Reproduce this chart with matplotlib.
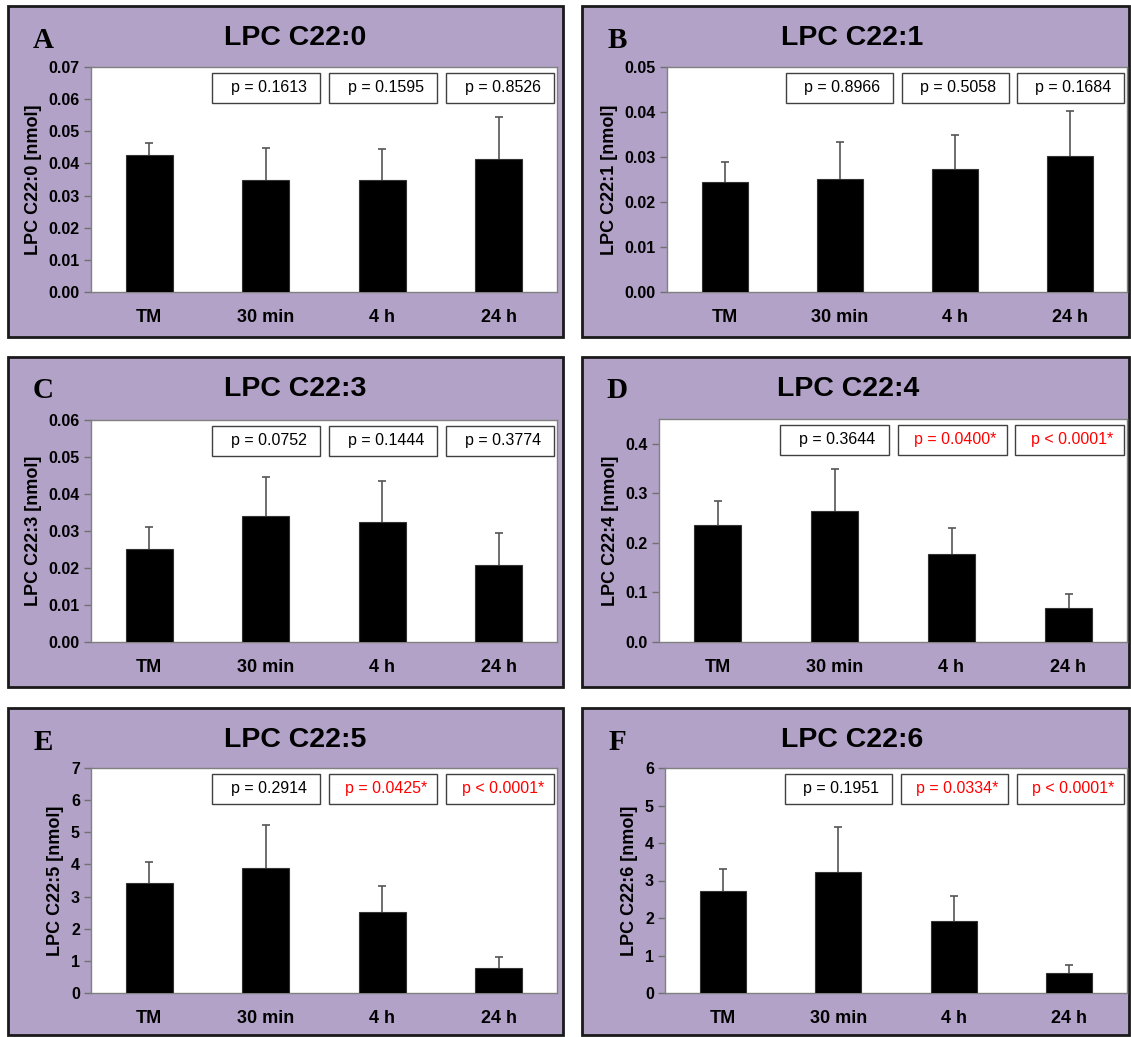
import numpy as np
import matplotlib
matplotlib.use("Agg")
import matplotlib.pyplot as plt
from matplotlib.patches import Rectangle

plt.rcParams['font.family'] = ['Liberation Sans', 'DejaVu Sans']

groups = ['TM', '30 min', '4 h', '24 h']

# mean and upper SD per time point (nmol)
c220_mean = [0.0425, 0.0350, 0.0350, 0.0415]
c220_sd = [0.0040, 0.0098, 0.0095, 0.0131]
c221_mean = [0.0245, 0.0251, 0.0273, 0.0303]
c221_sd = [0.0044, 0.0083, 0.0075, 0.0100]
c223_mean = [0.0252, 0.0340, 0.0324, 0.0208]
c223_sd = [0.0060, 0.0107, 0.0110, 0.0086]
c224_mean = [0.237, 0.2635, 0.1775, 0.069]
c224_sd = [0.048, 0.0855, 0.0525, 0.028]
c225_mean = [3.43, 3.89, 2.52, 0.78]
c225_sd = [0.65, 1.33, 0.80, 0.33]
c226_mean = [2.73, 3.24, 1.91, 0.525]
c226_sd = [0.58, 1.20, 0.67, 0.225]

# p values vs TM, '*' = significant
c220_p = ['p = 0.1613', 'p = 0.1595', 'p = 0.8526']
c221_p = ['p = 0.8966', 'p = 0.5058', 'p = 0.1684']
c223_p = ['p = 0.0752', 'p = 0.1444', 'p = 0.3774']
c224_p = ['p = 0.3644', 'p = 0.0400*', 'p < 0.0001*']
c225_p = ['p = 0.2914', 'p = 0.0425*', 'p < 0.0001*']
c226_p = ['p = 0.1951', 'p = 0.0334*', 'p < 0.0001*']

W, H = 1131, 1037
purple = '#B2A2C8'

fig = plt.figure(figsize=(W / 100, H / 100), dpi=100)


def fx(x):
    return x / W


def fy(y):
    return 1 - y / H


panels = [
    # letter, name, mean, sd, pvals, ymax, yticks, fmt, outer box, axes box, title x
    ('A', 'C22:0', c220_mean, c220_sd, c220_p, 0.07, np.arange(0, 0.071, 0.01), '{:.2f}',
     (8, 6, 563, 337), (91, 67, 557, 292), 295),
    ('B', 'C22:1', c221_mean, c221_sd, c221_p, 0.05, np.arange(0, 0.051, 0.01), '{:.2f}',
     (582, 6, 1129, 337), (667, 67, 1127, 292), 852),
    ('C', 'C22:3', c223_mean, c223_sd, c223_p, 0.06, np.arange(0, 0.061, 0.01), '{:.2f}',
     (8, 357, 563, 687), (91, 420, 557, 642), 295),
    ('D', 'C22:4', c224_mean, c224_sd, c224_p, 0.45, np.arange(0, 0.41, 0.1), '{:.1f}',
     (582, 357, 1129, 687), (659, 419, 1127, 642), 848),
    ('E', 'C22:5', c225_mean, c225_sd, c225_p, 7, np.arange(0, 8), '{:.0f}',
     (8, 708, 563, 1035), (91, 768, 557, 993), 295),
    ('F', 'C22:6', c226_mean, c226_sd, c226_p, 6, np.arange(0, 7), '{:.0f}',
     (582, 708, 1129, 1035), (665, 768, 1127, 993), 852),
]

x = np.arange(len(groups))

for letter, name, mean, sd, pvals, ymax, yticks, fmt, outer, inner, tx in panels:
    x0, y0, x1, y1 = outer
    fig.add_artist(Rectangle((fx(x0), fy(y1)), (x1 - x0) / W, (y1 - y0) / H,
                             transform=fig.transFigure, facecolor=purple,
                             edgecolor='#1a1a1a', lw=2, zorder=0))
    ty = y0 + 32
    fig.text(fx(x0 + 35), fy(ty + 2), letter, ha='center', va='center',
             family=['Liberation Serif', 'DejaVu Serif'], fontweight='bold', fontsize=21)
    fig.text(fx(tx), fy(ty), 'LPC ' + name, ha='center', va='center',
             fontweight='bold', fontsize=20.5)

    a0, b0, a1, b1 = inner
    ax = fig.add_axes([fx(a0), fy(b1), (a1 - a0) / W, (b1 - b0) / H])
    ax.set_facecolor('white')
    ax.bar(x, mean, width=0.4, color='black', edgecolor='#333333', lw=0.8, zorder=3)
    # upper error bars only
    top = np.array(mean) + np.array(sd)
    ax.vlines(x, mean, top, color='#555555', lw=1.2, zorder=2)
    ax.plot(x, top, ls='none', marker='_', ms=6, mew=1.2, color='#555555', zorder=2)
    ax.set_xlim(-0.5, 3.5)
    ax.set_ylim(0, ymax)
    ax.set_yticks(yticks)
    ax.set_yticklabels([fmt.format(v) for v in yticks], fontweight='bold', fontsize=11.5)
    ax.set_xticks(x)
    ax.set_xticklabels(groups, fontweight='bold', fontsize=13)
    ax.tick_params(axis='x', length=0, pad=12)
    ax.tick_params(axis='y', length=5, color='#707070', width=1, pad=3)
    for sp in ax.spines.values():
        sp.set_color('#808080')
        sp.set_linewidth(1)
    ax.set_ylabel('LPC ' + name + ' [nmol]', fontweight='bold', fontsize=13,
                  labelpad=5)

    # p value boxes above the three later time points
    bw, gap, bh = 0.233, 0.018, 0.135
    left = 0.259
    for i, p in enumerate(pvals):
        bx = left + i * (bw + gap)
        ax.add_patch(Rectangle((bx, 0.975 - bh), bw, bh, transform=ax.transAxes,
                               facecolor='white', edgecolor='#404040', lw=1,
                               zorder=5, clip_on=False))
        col = 'red' if p.endswith('*') else 'black'
        ax.text(bx + bw / 2 + 0.006, 0.975 - bh / 2, p, transform=ax.transAxes,
                ha='center', va='center', fontsize=11.5, color=col, zorder=6)

fig.savefig('out.png', dpi=100)
